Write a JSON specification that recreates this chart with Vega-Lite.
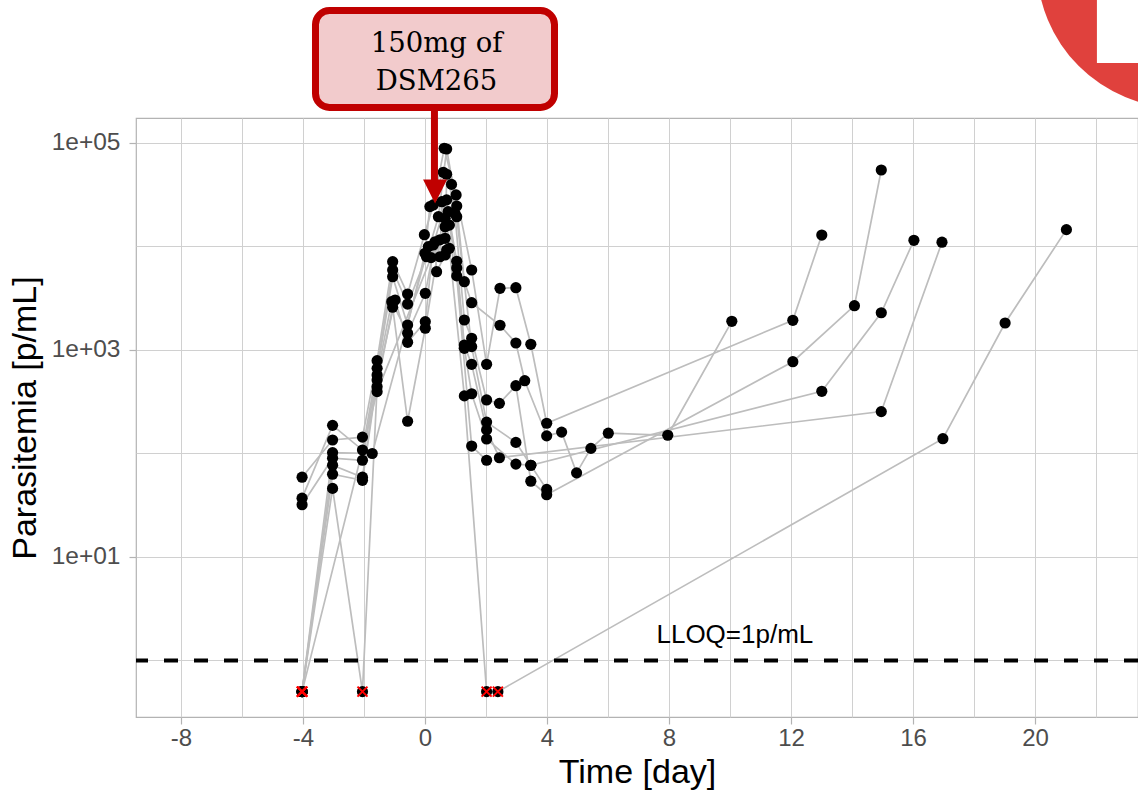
{
  "$schema": "https://vega.github.io/schema/vega-lite/v6.json",
  "width": 1002,
  "height": 599,
  "autosize": "none",
  "padding": {"left": 136, "top": 118, "right": 0, "bottom": 73},
  "background": "white",
  "config": {"view": {"stroke": "#b3b3b3", "strokeWidth": 1.2}, "font": "Liberation Sans"},
  "datasets": {
    "pk": [
      {"s": "S1", "t": -4.03, "p": 59}, {"s": "S1", "t": -3.03, "p": 135}, {"s": "S1", "t": -2.05, "p": 144}, {"s": "S1", "t": -1.57, "p": 789}, {"s": "S1", "t": -1.06, "p": 7130}, {"s": "S1", "t": -0.57, "p": 3475}, {"s": "S1", "t": -0.02, "p": 13000}, {"s": "S1", "t": 0.27, "p": 25200}, {"s": "S1", "t": 0.63, "p": 88900}, {"s": "S1", "t": 1.02, "p": 31500}, {"s": "S1", "t": 1.53, "p": 5930}, {"s": "S1", "t": 2.02, "p": 727}, {"s": "S1", "t": 2.46, "p": 3945}, {"s": "S1", "t": 2.98, "p": 4000}, {"s": "S1", "t": 3.47, "p": 1135}, {"s": "S1", "t": 3.99, "p": 196}, {"s": "S1", "t": 12.06, "p": 1936}, {"s": "S1", "t": 13.01, "p": 12900},
      {"s": "S2", "t": -4.03, "p": 37}, {"s": "S2", "t": -3.03, "p": 187}, {"s": "S2", "t": -2.05, "p": 108}, {"s": "S2", "t": -1.57, "p": 665}, {"s": "S2", "t": -1.06, "p": 5930}, {"s": "S2", "t": -0.57, "p": 2780}, {"s": "S2", "t": 0.05, "p": 7960}, {"s": "S2", "t": 0.44, "p": 19400}, {"s": "S2", "t": 0.71, "p": 87500}, {"s": "S2", "t": 1.04, "p": 24600}, {"s": "S2", "t": 1.29, "p": 4570}, {"s": "S2", "t": 1.53, "p": 2865}, {"s": "S2", "t": 2.46, "p": 1733}, {"s": "S2", "t": 2.98, "p": 1169}, {"s": "S2", "t": 3.27, "p": 505}, {"s": "S2", "t": 3.99, "p": 148}, {"s": "S2", "t": 4.48, "p": 161}, {"s": "S2", "t": 4.97, "p": 65}, {"s": "S2", "t": 5.44, "p": 112}, {"s": "S2", "t": 6.01, "p": 157}, {"s": "S2", "t": 7.96, "p": 150}, {"s": "S2", "t": 10.06, "p": 1893},
      {"s": "S3", "t": -4.03, "p": 32}, {"s": "S3", "t": -3.03, "p": 90}, {"s": "S3", "t": -2.05, "p": 86}, {"s": "S3", "t": -1.06, "p": 5100}, {"s": "S3", "t": -0.57, "p": 1743}, {"s": "S3", "t": 0.0, "p": 8600}, {"s": "S3", "t": 0.16, "p": 24300}, {"s": "S3", "t": 0.6, "p": 52100}, {"s": "S3", "t": 0.87, "p": 39800}, {"s": "S3", "t": 0.98, "p": 20900}, {"s": "S3", "t": 1.29, "p": 1950}, {"s": "S3", "t": 1.53, "p": 1297}, {"s": "S3", "t": 2.02, "p": 329}, {"s": "S3", "t": 2.44, "p": 305}, {"s": "S3", "t": 2.98, "p": 452}, {"s": "S3", "t": 3.47, "p": 54}, {"s": "S3", "t": 3.99, "p": 40}, {"s": "S3", "t": 12.06, "p": 771}, {"s": "S3", "t": 14.08, "p": 2680}, {"s": "S3", "t": 14.96, "p": 54800},
      {"s": "S4", "t": -4.03, "p": 0.5}, {"s": "S4", "t": -3.03, "p": 77}, {"s": "S4", "t": -2.05, "p": 59}, {"s": "S4", "t": -1.57, "p": 573}, {"s": "S4", "t": -1.09, "p": 2930}, {"s": "S4", "t": -0.57, "p": 1450}, {"s": "S4", "t": 0.01, "p": 3530}, {"s": "S4", "t": 0.33, "p": 11100}, {"s": "S4", "t": 0.38, "p": 5710}, {"s": "S4", "t": 0.66, "p": 8280}, {"s": "S4", "t": 0.71, "p": 49900}, {"s": "S4", "t": 1.04, "p": 19400}, {"s": "S4", "t": 1.53, "p": 1077}, {"s": "S4", "t": 2.02, "p": 201}, {"s": "S4", "t": 2.98, "p": 128}, {"s": "S4", "t": 3.47, "p": 77}, {"s": "S4", "t": 13.01, "p": 399}, {"s": "S4", "t": 14.96, "p": 2290}, {"s": "S4", "t": 16.03, "p": 11480},
      {"s": "S5", "t": -4.03, "p": 0.5}, {"s": "S5", "t": -3.03, "p": 63}, {"s": "S5", "t": -2.05, "p": 55}, {"s": "S5", "t": -1.57, "p": 513}, {"s": "S5", "t": -0.98, "p": 3040}, {"s": "S5", "t": -0.57, "p": 1187}, {"s": "S5", "t": 0.01, "p": 1878}, {"s": "S5", "t": 0.27, "p": 10350}, {"s": "S5", "t": 0.71, "p": 28200}, {"s": "S5", "t": 0.76, "p": 21700}, {"s": "S5", "t": 1.04, "p": 7200}, {"s": "S5", "t": 1.29, "p": 1117}, {"s": "S5", "t": 1.53, "p": 727}, {"s": "S5", "t": 2.02, "p": 169}, {"s": "S5", "t": 2.44, "p": 91}, {"s": "S5", "t": 14.96, "p": 254}, {"s": "S5", "t": 16.95, "p": 11000},
      {"s": "S6", "t": -4.03, "p": 0.5}, {"s": "S6", "t": -3.03, "p": 46}, {"s": "S6", "t": -2.05, "p": 0.5}, {"s": "S6", "t": -1.57, "p": 442}, {"s": "S6", "t": -1.06, "p": 2590}, {"s": "S6", "t": -0.57, "p": 205}, {"s": "S6", "t": 0.01, "p": 1622}, {"s": "S6", "t": 0.49, "p": 11600}, {"s": "S6", "t": 0.66, "p": 15500}, {"s": "S6", "t": 0.8, "p": 16100}, {"s": "S6", "t": 1.04, "p": 6200}, {"s": "S6", "t": 1.29, "p": 1038}, {"s": "S6", "t": 1.53, "p": 378}, {"s": "S6", "t": 2.02, "p": 138}, {"s": "S6", "t": 2.98, "p": 79}, {"s": "S6", "t": 3.47, "p": 77}, {"s": "S6", "t": 3.99, "p": 45},
      {"s": "S7", "t": -4.03, "p": 0.5}, {"s": "S7", "t": -3.03, "p": 102}, {"s": "S7", "t": -1.73, "p": 100}, {"s": "S7", "t": 0.11, "p": 9960}, {"s": "S7", "t": 0.49, "p": 7960}, {"s": "S7", "t": 0.55, "p": 27100}, {"s": "S7", "t": 0.66, "p": 18700}, {"s": "S7", "t": 1.04, "p": 5200}, {"s": "S7", "t": 1.53, "p": 118}, {"s": "S7", "t": 2.02, "p": 86},
      {"s": "S8", "t": -4.03, "p": 0.5}, {"s": "S8", "t": -1.57, "p": 396}, {"s": "S8", "t": 0.2, "p": 7800}, {"s": "S8", "t": 0.66, "p": 12000}, {"s": "S8", "t": 0.71, "p": 9250}, {"s": "S8", "t": 0.8, "p": 9600}, {"s": "S8", "t": 1.29, "p": 360}, {"s": "S8", "t": 2.02, "p": 0.5}, {"s": "S8", "t": 2.39, "p": 0.5}, {"s": "S8", "t": 16.98, "p": 139}, {"s": "S8", "t": 19.02, "p": 1824}, {"s": "S8", "t": 21.03, "p": 14550}
    ]
  },
  "layer": [
    {
      "data": {"name": "pk"},
      "mark": {"type": "line", "color": "#bdbdbd", "strokeWidth": 1.7},
      "encoding": {
        "x": {
          "field": "t", "type": "quantitative",
          "scale": {"domain": [-9.475, 23.377], "nice": false, "zero": false},
          "axis": {
            "title": "Time [day]",
            "values": [-8, -6, -4, -2, 0, 2, 4, 6, 8, 10, 12, 14, 16, 18, 20, 22],
            "labelExpr": "datum.value % 4 === 0 ? '' + datum.value : ''",
            "grid": true, "gridColor": "#d0d0d0", "gridWidth": 1,
            "domain": false,
            "tickColor": {"condition": {"test": "datum.value % 4 === 0", "value": "#b3b3b3"}, "value": "transparent"},
            "tickSize": 7, "tickWidth": 1.2,
            "labelFont": "Liberation Sans", "labelFontSize": 24, "labelColor": "#4d4d4d", "labelPadding": 2,
            "labelFlush": false, "labelOverlap": false,
            "titleFont": "Liberation Sans", "titleFontSize": 34, "titleFontWeight": "normal", "titleColor": "#000000", "titlePadding": 5
          }
        },
        "y": {
          "field": "p", "type": "quantitative",
          "scale": {"type": "log", "domain": [0.2844, 174400], "nice": false},
          "axis": {
            "title": "Parasitemia [p/mL]",
            "values": [1, 10, 100, 1000, 10000, 100000],
            "labelExpr": "datum.value === 100000 ? '1e+05' : datum.value === 1000 ? '1e+03' : datum.value === 10 ? '1e+01' : ''",
            "grid": true, "gridColor": "#d0d0d0", "gridWidth": 1,
            "domain": false,
            "tickColor": {"condition": {"test": "datum.value === 10 || datum.value === 1000 || datum.value === 100000", "value": "#b3b3b3"}, "value": "transparent"},
            "tickSize": 7, "tickWidth": 1.2,
            "labelFont": "Liberation Sans", "labelFontSize": 24.5, "labelColor": "#4d4d4d", "labelPadding": 9,
            "labelOverlap": false,
            "titleFont": "Liberation Sans", "titleFontSize": 34, "titleFontWeight": "normal", "titleColor": "#000000", "titlePadding": 9
          }
        },
        "detail": {"field": "s"},
        "order": {"field": "t", "type": "quantitative"}
      }
    },
    {
      "data": {"values": [{}]},
      "mark": {"type": "rule", "color": "#000000", "strokeWidth": 4, "strokeDash": [14, 16]},
      "encoding": {"y": {"datum": 1}}
    },
    {
      "data": {"name": "pk"},
      "mark": {"type": "point", "shape": "circle", "filled": true, "color": "#000000", "size": 125, "opacity": 1},
      "encoding": {
        "x": {"field": "t", "type": "quantitative"},
        "y": {"field": "p", "type": "quantitative"}
      }
    },
    {
      "data": {"name": "pk"},
      "transform": [{"filter": "datum.p < 1"}],
      "mark": {"type": "point", "shape": "M-1,-1L1,1M-1,1L1,-1", "filled": false, "color": "#ff0000", "strokeWidth": 2, "size": 100, "opacity": 1},
      "encoding": {
        "x": {"field": "t", "type": "quantitative"},
        "y": {"field": "p", "type": "quantitative"}
      }
    },
    {
      "data": {"values": [{}]},
      "mark": {"type": "text", "text": "LLOQ=1p/mL", "font": "Liberation Sans", "fontSize": 26, "color": "#000000", "align": "center", "baseline": "alphabetic"},
      "encoding": {"x": {"datum": 10.16}, "y": {"datum": 1.476}}
    },
    {
      "data": {"values": [{}]},
      "mark": {"type": "point", "shape": "circle", "filled": true, "color": "#e0413d", "size": 81796, "opacity": 1},
      "encoding": {"x": {"datum": 24.75}, "y": {"datum": 5250000}}
    },
    {
      "data": {"values": [{}]},
      "mark": {"type": "rect", "color": "#ffffff", "opacity": 1},
      "encoding": {"x": {"datum": 22.03}, "x2": {"datum": 24.5}, "y": {"datum": 3000000}, "y2": {"datum": 593000}}
    },
    {
      "data": {"values": [{}]},
      "mark": {"type": "rule", "color": "#c00000", "strokeWidth": 7},
      "encoding": {"x": {"datum": 0.31}, "y": {"datum": 220300}, "y2": {"datum": 43900}}
    },
    {
      "data": {"values": [{}]},
      "mark": {"type": "point", "shape": "M-1,-1L1,-1L0,1Z", "filled": true, "color": "#c00000", "size": 576, "opacity": 1},
      "encoding": {"x": {"datum": 0.33}, "y": {"datum": 34000}}
    },
    {
      "data": {"values": [{}]},
      "mark": {"type": "rect", "fill": "#f2cbcc", "stroke": "#c00000", "strokeWidth": 7, "cornerRadius": 14, "opacity": 1},
      "encoding": {"x": {"datum": -3.59}, "x2": {"datum": 4.246}, "y": {"datum": 1906000}, "y2": {"datum": 220300}}
    },
    {
      "data": {"values": [{}]},
      "mark": {"type": "text", "text": "150mg of", "font": "DejaVu Serif", "fontSize": 27.5, "color": "#000000", "align": "center", "baseline": "alphabetic"},
      "encoding": {"x": {"datum": 0.38}, "y": {"datum": 757000}}
    },
    {
      "data": {"values": [{}]},
      "mark": {"type": "text", "text": "DSM265", "font": "DejaVu Serif", "fontSize": 27.5, "color": "#000000", "align": "center", "baseline": "alphabetic"},
      "encoding": {"x": {"datum": 0.38}, "y": {"datum": 325000}}
    }
  ]
}
